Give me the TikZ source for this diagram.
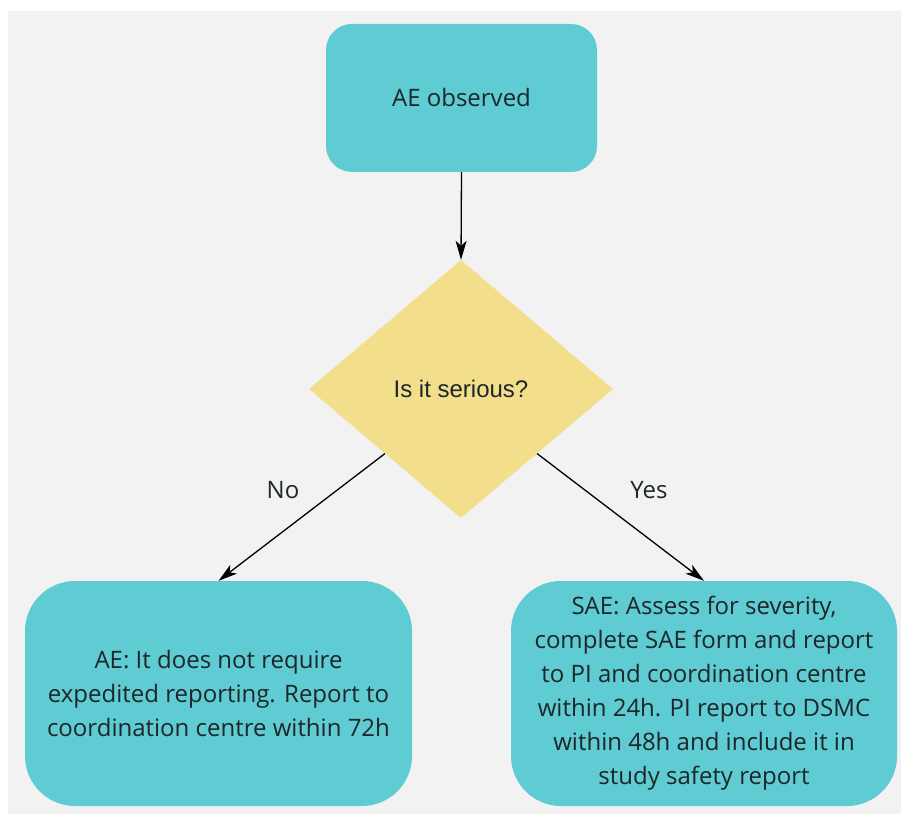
\documentclass[tikz,border=0pt]{standalone}
\usepackage{fontspec}
\setmainfont{Open Sans}
\newfontfamily\arialfont{Liberation Sans}
\usepackage{tikz}
\usetikzlibrary{calc}
\usetikzlibrary{shapes.geometric}
\usetikzlibrary{arrows.meta}
\definecolor{boxteal}{HTML}{5FCBD3}
\definecolor{diayellow}{HTML}{F3DE8C}
\definecolor{bggrey}{HTML}{F2F2F2}
\definecolor{txtdark}{HTML}{1D2628}

\begin{document}
\begin{tikzpicture}[x=1pt,y=1pt,
        stepbox/.style={rectangle,fill=boxteal,text=txtdark,inner sep=0pt,align=center,
            font=\fontsize{24}{34}\selectfont},
        question/.style={diamond,fill=diayellow,text=txtdark,inner sep=0pt,
            minimum width=304pt,minimum height=258pt,font=\arialfont\fontsize{24}{29}\selectfont},
        answer/.style={text=txtdark,inner sep=0pt,font=\fontsize{24}{29}\selectfont},
        flow/.style={line width=1.3pt,black,-{Stealth[length=19pt,width=11pt,inset=5pt]}}]
        \useasboundingbox (0,0) rectangle (901,814);
        \fill[white] (0,0) rectangle (901,814);
        \fill[bggrey] (8,0) rectangle (901,803);

        % top box
        \node[stepbox,rounded corners=26pt,minimum width=271pt,minimum height=148pt] (observed) at (461.5,716) {AE observed};
        % decision
        \node[question] (serious) at (461,425) {Is it serious?};
        % bottom line
        \node[stepbox,rounded corners=50pt,minimum width=387pt,minimum height=225pt] (notserious) at (218.5,120.5)
            {AE: It does not require\\expedited reporting. Report to\\coordination centre within 72h};
        \node[stepbox,rounded corners=50pt,minimum width=386pt,minimum height=225pt] (isserious) at (704,120.5)
            {SAE: Assess for severity,\\complete SAE form and report\\to PI and coordination centre\\within 24h. PI report to DSMC\\within 48h and include it in\\study safety report};

        % arrows
        \draw[flow] (observed.south) -- (serious.north);
        \draw[flow] (serious.south west) -- (notserious.north);
        \draw[flow] (serious.south east) -- (isserious.north);
        \node[answer] (no) at (283,324) {No};
        \node[answer] (yes) at (649,324) {Yes};
    \end{tikzpicture}
\end{document}
